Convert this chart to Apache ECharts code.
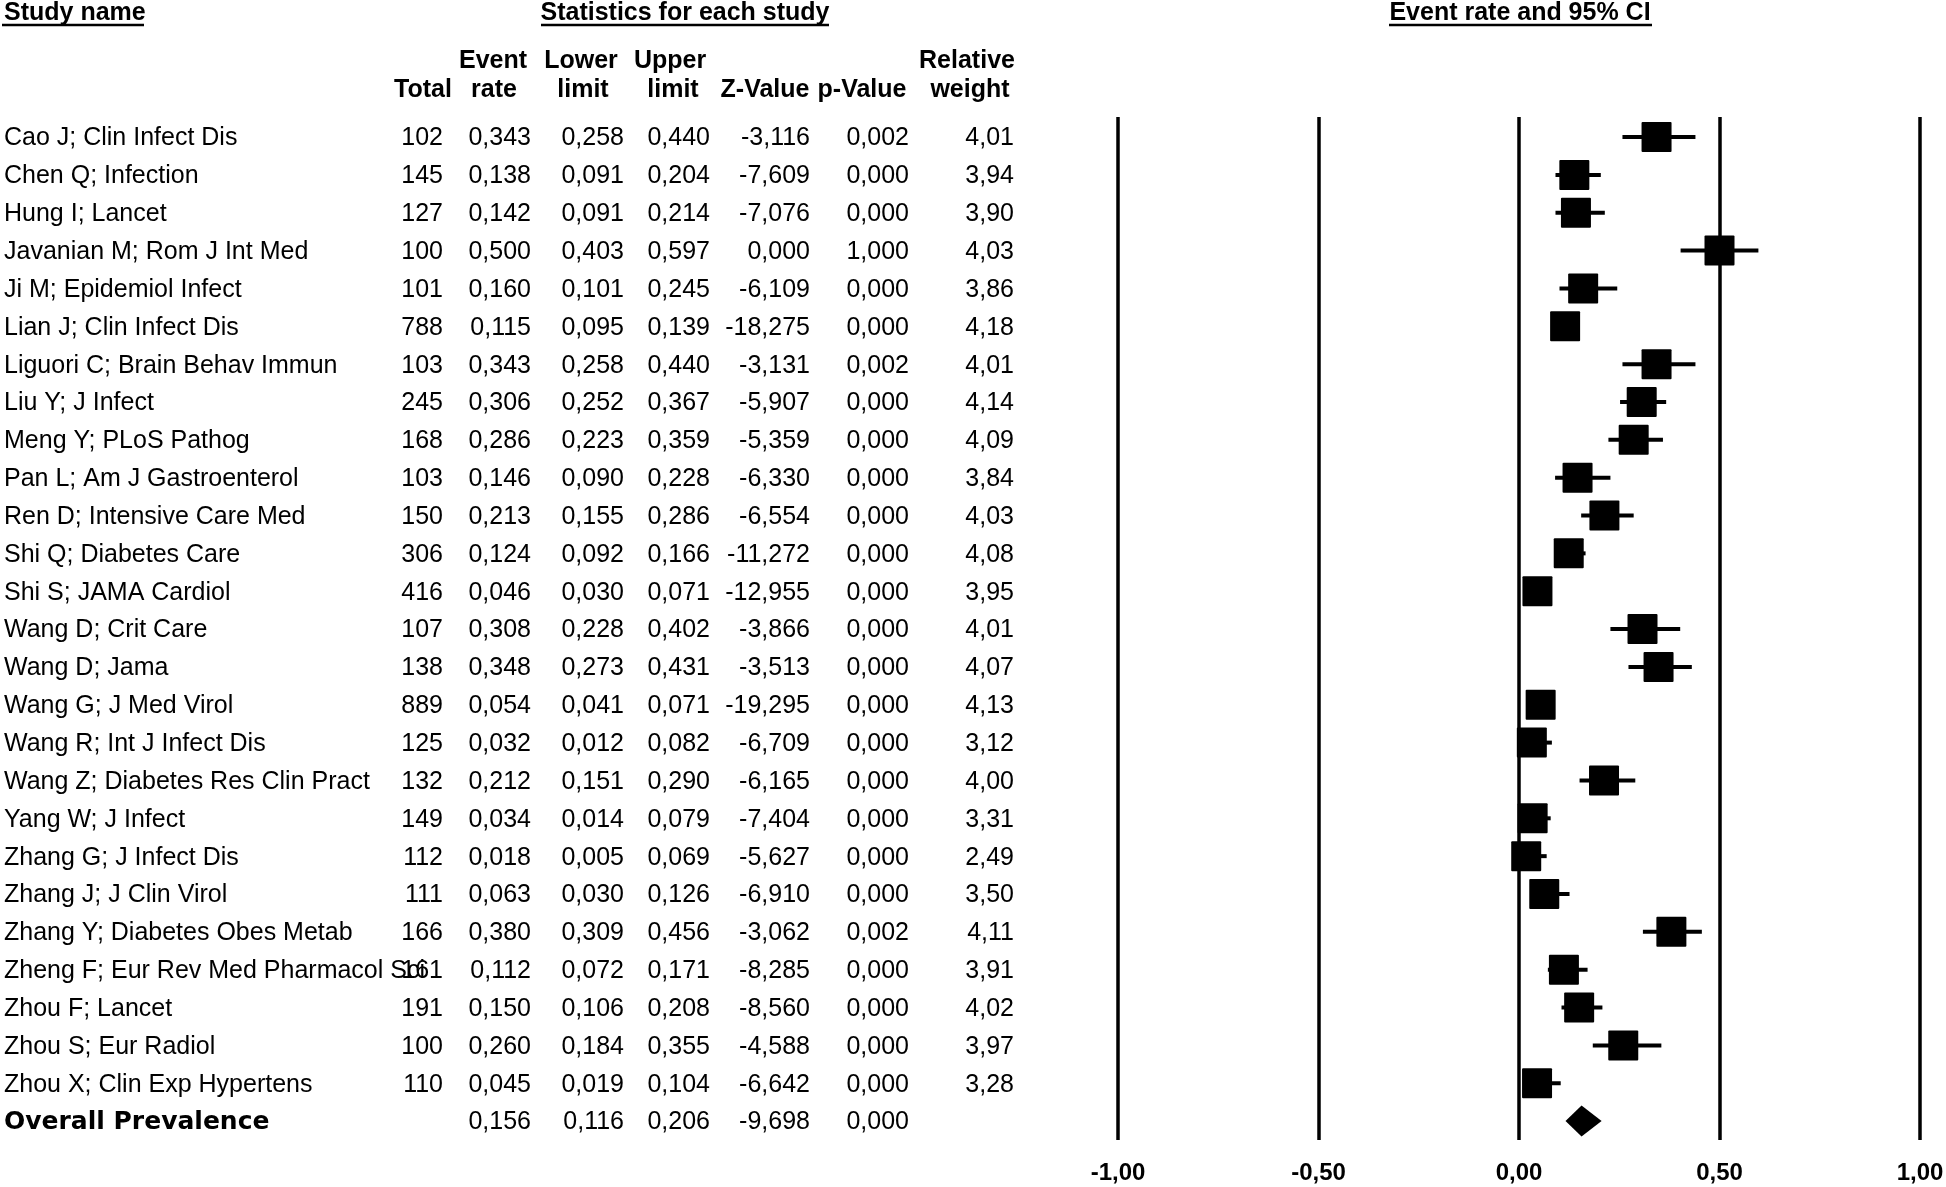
<!DOCTYPE html>
<html><head><meta charset="utf-8">
<script src="https://cdn.jsdelivr.net/npm/echarts@6/dist/echarts.min.js"></script>
<style>html,body{margin:0;padding:0;background:#fff}#c{width:1946px;height:1187px}</style>
</head><body><div id="c"></div>
<script>
const studies = [
 'Cao J; Clin Infect Dis','Chen Q; Infection','Hung I; Lancet','Javanian M; Rom J Int Med',
 'Ji M; Epidemiol Infect','Lian J; Clin Infect Dis','Liguori C; Brain Behav Immun','Liu Y; J Infect',
 'Meng Y; PLoS Pathog','Pan L; Am J Gastroenterol','Ren D; Intensive Care Med','Shi Q; Diabetes Care',
 'Shi S; JAMA Cardiol','Wang D; Crit Care','Wang D; Jama','Wang G; J Med Virol','Wang R; Int J Infect Dis',
 'Wang Z; Diabetes Res Clin Pract','Yang W; J Infect','Zhang G; J Infect Dis','Zhang J; J Clin Virol',
 'Zhang Y; Diabetes Obes Metab','Zheng F; Eur Rev Med Pharmacol Sci','Zhou F; Lancet','Zhou S; Eur Radiol',
 'Zhou X; Clin Exp Hypertens'];
const totals = [102,145,127,100,101,788,103,245,168,103,150,306,416,107,138,889,125,132,149,112,111,166,161,191,100,110];
const eventRates = [0.343,0.138,0.142,0.500,0.160,0.115,0.343,0.306,0.286,0.146,0.213,0.124,0.046,0.308,0.348,0.054,0.032,0.212,0.034,0.018,0.063,0.380,0.112,0.150,0.260,0.045];
const lowerLimits = [0.258,0.091,0.091,0.403,0.101,0.095,0.258,0.252,0.223,0.090,0.155,0.092,0.030,0.228,0.273,0.041,0.012,0.151,0.014,0.005,0.030,0.309,0.072,0.106,0.184,0.019];
const upperLimits = [0.440,0.204,0.214,0.597,0.245,0.139,0.440,0.367,0.359,0.228,0.286,0.166,0.071,0.402,0.431,0.071,0.082,0.290,0.079,0.069,0.126,0.456,0.171,0.208,0.355,0.104];
const zValues = [-3.116,-7.609,-7.076,0.000,-6.109,-18.275,-3.131,-5.907,-5.359,-6.330,-6.554,-11.272,-12.955,-3.866,-3.513,-19.295,-6.709,-6.165,-7.404,-5.627,-6.910,-3.062,-8.285,-8.560,-4.588,-6.642];
const pValues = [0.002,0.000,0.000,1.000,0.000,0.000,0.002,0.000,0.000,0.000,0.000,0.000,0.000,0.000,0.000,0.000,0.000,0.000,0.000,0.000,0.000,0.002,0.000,0.000,0.000,0.000];
const weights = [4.01,3.94,3.90,4.03,3.86,4.18,4.01,4.14,4.09,3.84,4.03,4.08,3.95,4.01,4.07,4.13,3.12,4.00,3.31,2.49,3.50,4.11,3.91,4.02,3.97,3.28];
const overallLabel = 'Overall Prevalence';
const overallRate = 0.156, overallLower = 0.116, overallUpper = 0.206, overallZ = -9.698, overallP = 0.000;
const xTicks = [-1, -0.5, 0, 0.5, 1];

const FONT = '"Liberation Sans", Arial, sans-serif';
const fmt = (v, d) => v.toFixed(d).replace('.', ',');
const COLS = {name: 4, total: 443, er: 531, lo: 624, up: 710, z: 810, p: 909, w: 1014};
const TEXT_DY = 1.5;

const n = studies.length;
const tableRows = studies.map((s, i) => [i]);
tableRows.push([n]);
const studyMarks = studies.map((s, i) => [eventRates[i], lowerLimits[i], upperLimits[i], i]);
const overallMark = [[overallRate, overallLower, overallUpper, n]];

function txt(text, x, y, align, opts) {
  return {type: 'text', style: Object.assign({text: text, x: x, y: y + TEXT_DY, align: align, verticalAlign: 'middle',
    fontSize: 25, fontFamily: FONT, fontWeight: 'normal', fill: '#000'}, opts || {})};
}

function renderTable(params, api) {
  const i = api.value(0);
  const y = api.coord([0, i])[1];
  const ch = [];
  if (i < n) {
    ch.push(txt(studies[i], COLS.name, y, 'left'));
    ch.push(txt(String(totals[i]), COLS.total, y, 'right'));
    ch.push(txt(fmt(eventRates[i], 3), COLS.er, y, 'right'));
    ch.push(txt(fmt(lowerLimits[i], 3), COLS.lo, y, 'right'));
    ch.push(txt(fmt(upperLimits[i], 3), COLS.up, y, 'right'));
    ch.push(txt(fmt(zValues[i], 3), COLS.z, y, 'right'));
    ch.push(txt(fmt(pValues[i], 3), COLS.p, y, 'right'));
    ch.push(txt(fmt(weights[i], 2), COLS.w, y, 'right'));
  } else {
    ch.push(txt(overallLabel, COLS.name, y, 'left', {fontFamily: '"DejaVu Sans", Verdana, sans-serif', fontWeight: 'bold', fontSize: 25}));
    ch.push(txt(fmt(overallRate, 3), COLS.er, y, 'right'));
    ch.push(txt(fmt(overallLower, 3), COLS.lo, y, 'right'));
    ch.push(txt(fmt(overallUpper, 3), COLS.up, y, 'right'));
    ch.push(txt(fmt(overallZ, 3), COLS.z, y, 'right'));
    ch.push(txt(fmt(overallP, 3), COLS.p, y, 'right'));
  }
  return {type: 'group', children: ch};
}

function renderStudy(params, api) {
  const c = api.coord([api.value(0), api.value(3)]);
  const l = api.coord([api.value(1), api.value(3)]);
  const u = api.coord([api.value(2), api.value(3)]);
  const s = 30;
  return {type: 'group', children: [
    {type: 'line', shape: {x1: l[0], y1: l[1], x2: u[0], y2: u[1]}, style: {stroke: '#000', lineWidth: 4}},
    {type: 'rect', shape: {x: c[0] - s / 2, y: c[1] - s / 2, width: s, height: s, r: 1}, style: {fill: '#000'}}
  ]};
}

function renderDiamond(params, api) {
  const c = api.coord([api.value(0), api.value(3)]);
  const l = api.coord([api.value(1), api.value(3)]);
  const u = api.coord([api.value(2), api.value(3)]);
  const h = 15.5;
  return {type: 'polygon', shape: {points: [[l[0], c[1]], [c[0], c[1] - h], [u[0], c[1]], [c[0], c[1] + h]]}, style: {fill: '#000'}};
}

const B = {fontFamily: FONT, fontWeight: 'bold', fontSize: 25, fill: '#000'};
function hdr(text, x, y, align) {
  return {type: 'text', style: Object.assign({text: text, x: x, y: y, align: align, verticalAlign: 'middle'}, B), silent: true};
}
function uline(x1, x2, y) {
  return {type: 'line', shape: {x1: x1, y1: y, x2: x2, y2: y}, style: {stroke: '#000', lineWidth: 2.5}, silent: true};
}

const chart = echarts.init(document.getElementById('c'), null, {renderer: 'canvas'});
chart.setOption({
  animation: false,
  backgroundColor: '#fff',
  grid: {left: 1118, right: 26, top: 117, bottom: 47, containLabel: false, outerBoundsMode: 'none'},
  xAxis: {
    type: 'value', min: xTicks[0], max: xTicks[xTicks.length - 1], interval: 0.5,
    axisLine: {show: false}, axisTick: {show: false},
    splitLine: {show: true, showMinLine: true, showMaxLine: true, lineStyle: {color: '#000', width: 3.5}},
    axisLabel: {formatter: v => fmt(v, 2), fontFamily: FONT, fontWeight: 'bold', fontSize: 24, color: '#000', margin: 21, lineHeight: 24}
  },
  yAxis: {type: 'value', inverse: true, min: -0.53, max: 26.5, show: false},
  graphic: {elements: [
    hdr('Study name', 4, 13, 'left'), uline(2, 144, 25),
    hdr('Statistics for each study', 685, 13, 'center'), uline(541, 829, 25),
    hdr('Event rate and 95% CI', 1520, 13, 'center'), uline(1389, 1652, 25),
    hdr('Event', 493, 61, 'center'), hdr('Lower', 581, 61, 'center'), hdr('Upper', 670, 61, 'center'), hdr('Relative', 967, 61, 'center'),
    hdr('Total', 423, 90.5, 'center'), hdr('rate', 494, 90.5, 'center'), hdr('limit', 583, 90.5, 'center'), hdr('limit', 673, 90.5, 'center'),
    hdr('Z-Value', 765, 90.5, 'center'), hdr('p-Value', 862, 90.5, 'center'), hdr('weight', 970, 90.5, 'center')
  ]},
  series: [
    {type: 'custom', name: 'table', data: tableRows, encode: {x: -1, y: 0}, renderItem: renderTable, clip: false, silent: true},
    {type: 'custom', name: 'studies', data: studyMarks, encode: {x: [0, 1, 2], y: 3}, renderItem: renderStudy, clip: false, z: 5},
    {type: 'custom', name: 'overall', data: overallMark, encode: {x: [0, 1, 2], y: 3}, renderItem: renderDiamond, clip: false, z: 5}
  ]
});
</script></body></html>
